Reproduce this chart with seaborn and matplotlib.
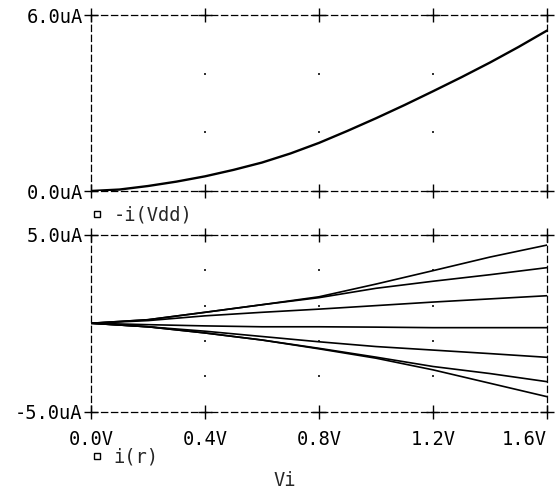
import numpy as np
import pandas as pd
import matplotlib
matplotlib.use("Agg")
import matplotlib.pyplot as plt
from matplotlib.lines import Line2D
import seaborn as sns

# sweep voltage Vi (V)
vi_fine = [0.0, 0.1, 0.2, 0.3, 0.4, 0.5, 0.6, 0.7, 0.8,
           0.9, 1.0, 1.1, 1.2, 1.3, 1.4, 1.5, 1.6]
# -i(Vdd) in uA
i_vdd = [0.0, 0.05, 0.17, 0.32, 0.50, 0.72, 0.97, 1.28, 1.64,
         2.05, 2.48, 2.93, 3.40, 3.88, 4.38, 4.91, 5.47]

vi = [0.0, 0.2, 0.4, 0.6, 0.8, 1.0, 1.2, 1.4, 1.6]
# i(r) family in uA, one list per trace
i_r1 = [0.0, 0.2, 0.62, 1.05, 1.50, 2.22, 2.98, 3.75, 4.43]
i_r2 = [0.0, 0.2, 0.62, 1.05, 1.45, 1.98, 2.38, 2.75, 3.15]
i_r3 = [0.0, 0.15, 0.42, 0.62, 0.80, 1.00, 1.20, 1.38, 1.56]
i_r4 = [0.0, -0.08, -0.15, -0.20, -0.20, -0.22, -0.25, -0.25, -0.25]
i_r5 = [0.0, -0.2, -0.45, -0.75, -1.05, -1.32, -1.52, -1.72, -1.93]
i_r6 = [0.0, -0.2, -0.55, -0.95, -1.42, -1.92, -2.45, -2.85, -3.31]
i_r7 = [0.0, -0.2, -0.55, -0.95, -1.45, -1.98, -2.64, -3.40, -4.16]

x_ticks = [0.0, 0.4, 0.8, 1.2, 1.6]
x_labels = ["0.0V", "0.4V", "0.8V", "1.2V", "1.6V"]
top_yticks = [0.0, 6.0]
top_ylabels = ["0.0uA", "6.0uA"]
top_grid_y = [2.0, 4.0]
bot_yticks = [-5.0, 5.0]
bot_ylabels = ["-5.0uA", "5.0uA"]
bot_grid_y = [-3.0, -1.0, 1.0, 3.0]

sns.set_style("white")
plt.rcParams['font.family'] = ['DejaVu Sans Mono', 'Liberation Mono']
FS = 13.5

fig = plt.figure(figsize=(5.59, 4.91), dpi=100)
ax_top = fig.add_axes([91 / 559, 1 - 191 / 491, 456 / 559, 176 / 491])
ax_bot = fig.add_axes([91 / 559, 1 - 411.5 / 491, 456 / 559, 176.5 / 491])

top_df = pd.DataFrame({"Vi": vi_fine, "I": i_vdd})
sns.lineplot(data=top_df, x="Vi", y="I", color="black", linewidth=1.7, ax=ax_top)

traces = [i_r1, i_r2, i_r3, i_r4, i_r5, i_r6, i_r7]
bot_df = pd.concat(
    [pd.DataFrame({"Vi": vi, "I": t, "trace": f"r{k}"}) for k, t in enumerate(traces)],
    ignore_index=True)
sns.lineplot(data=bot_df, x="Vi", y="I", hue="trace", palette=["black"] * 7,
             linewidth=1.2, legend=False, ax=ax_bot)


def style_panel(ax, yticks, ylabels, grid_y, show_x):
    ax.set_xlim(0, 1.6)
    ax.set_ylim(yticks[0], yticks[-1])
    for sp in ax.spines.values():
        sp.set_linestyle((0, (5, 3)))
        sp.set_linewidth(0.9)
        sp.set_color("black")
    ax.set_xticks(x_ticks)
    ax.set_xticklabels(x_labels if show_x else [])
    if show_x:
        # last label sits flush with the right frame edge
        ax.get_xticklabels()[-1].set_horizontalalignment("right")
        ax.get_xticklabels()[-1].set_x(1.6)
    ax.set_yticks(yticks)
    ax.set_yticklabels(ylabels)
    ax.tick_params(length=0, labelsize=FS, colors="black")
    ax.tick_params(axis="x", pad=13)
    ax.tick_params(axis="y", pad=6)
    ax.set_xlabel("")
    ax.set_ylabel("")
    # "+" marks where ticks meet the frame
    gx, gy = np.meshgrid(x_ticks, yticks)
    ax.scatter(gx.ravel(), gy.ravel(), marker="+", s=100, c="black",
               linewidths=1.0, clip_on=False, zorder=5)
    # grid dots inside the plot area
    dx, dy = np.meshgrid(x_ticks[1:-1], grid_y)
    ax.scatter(dx.ravel(), dy.ravel(), marker="s", s=1.5, c="#333333",
               linewidths=0, zorder=1)


style_panel(ax_top, top_yticks, top_ylabels, top_grid_y, False)
style_panel(ax_bot, bot_yticks, bot_ylabels, bot_grid_y, True)

sq = Line2D([], [], marker="s", ls="none", mfc="white", mec="black", ms=4.5, mew=1.0)
ax_top.legend([sq], ["-i(Vdd)"], loc="center left", bbox_to_anchor=(-0.004, -0.136),
              frameon=False, fontsize=FS, handlelength=0.8, handletextpad=0.5,
              borderpad=0, borderaxespad=0)
ax_bot.legend([sq], ["i(r)"], loc="center left", bbox_to_anchor=(-0.004, -0.258),
              frameon=False, fontsize=FS, handlelength=0.8, handletextpad=0.5,
              borderpad=0, borderaxespad=0)

fig.text(285 / 559, 1 - 481 / 491, "Vi", fontsize=FS, ha="center", va="center")

fig.savefig("out.png", dpi=100)
plt.close(fig)
